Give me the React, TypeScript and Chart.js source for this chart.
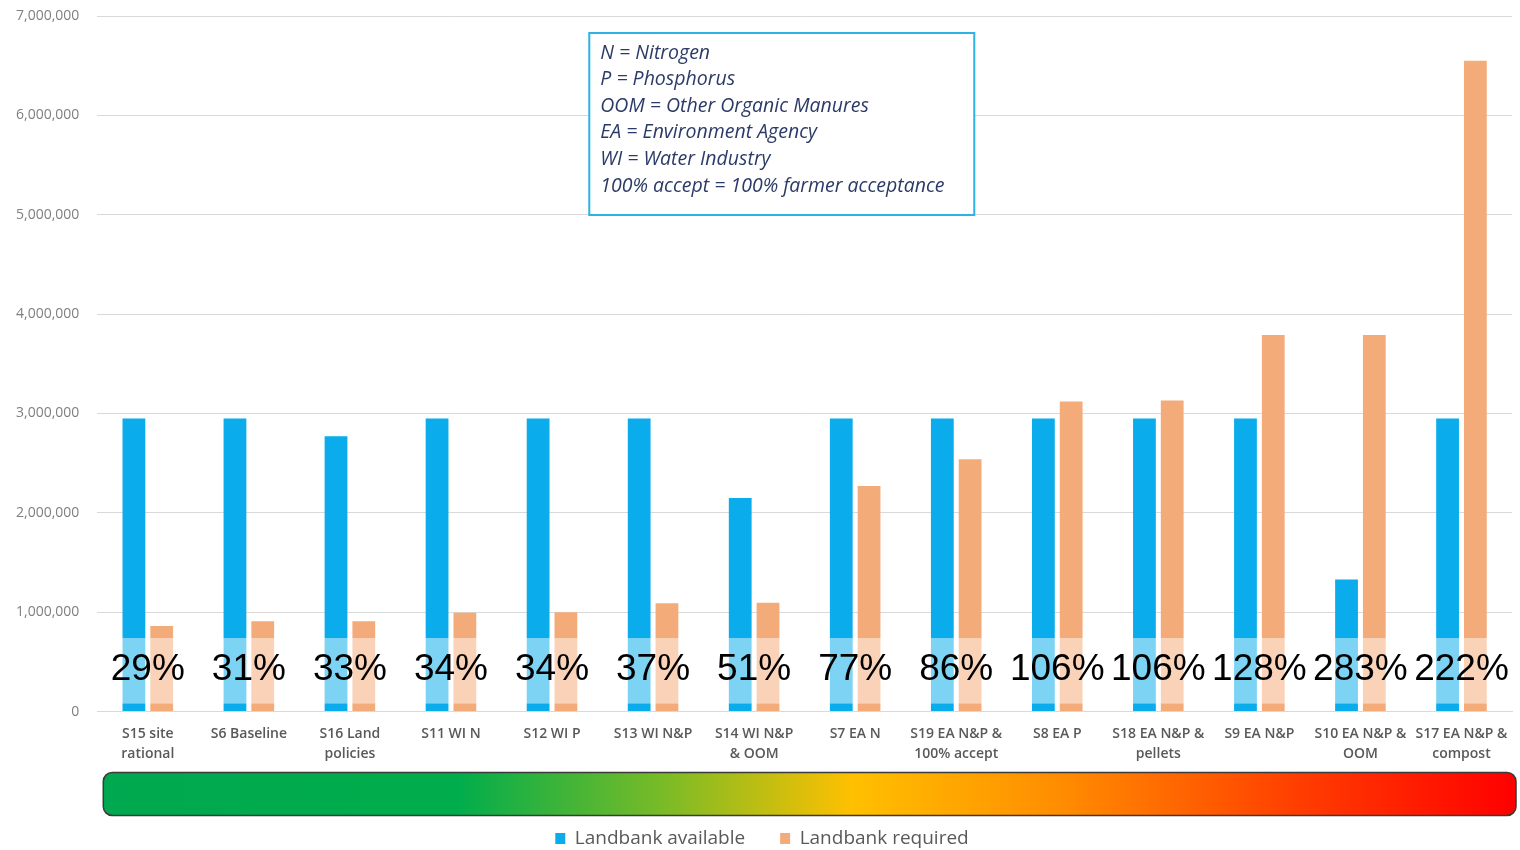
import React, { useEffect, useRef } from 'react';
import { Chart, registerables } from 'chart.js';

Chart.register(...registerables);

const categories: string[][] = [
  ['S15 site', 'rational'],
  ['S6 Baseline'],
  ['S16 Land', 'policies'],
  ['S11 WI N'],
  ['S12 WI P'],
  ['S13 WI N&P'],
  ['S14 WI N&P', '& OOM'],
  ['S7 EA N'],
  ['S19 EA N&P &', '100% accept'],
  ['S8 EA P'],
  ['S18 EA N&P &', 'pellets'],
  ['S9 EA N&P'],
  ['S10 EA N&P &', 'OOM'],
  ['S17 EA N&P &', 'compost'],
];

const landbankAvailable = [
  2950000, 2950000, 2770000, 2950000, 2950000, 2950000, 2150000,
  2950000, 2950000, 2950000, 2950000, 2950000, 1330000, 2950000,
];

const landbankRequired = [
  860000, 910000, 910000, 995000, 1000000, 1090000, 1095000,
  2270000, 2540000, 3120000, 3130000, 3790000, 3790000, 6550000,
];

const percentLabels = [29, 31, 33, 34, 34, 37, 51, 77, 86, 106, 106, 128, 283, 222];

const yTickValues = [0, 1000000, 2000000, 3000000, 4000000, 5000000, 6000000, 7000000];

const notes = [
  'N = Nitrogen',
  'P = Phosphorus',
  'OOM = Other Organic Manures',
  'EA = Environment Agency',
  'WI = Water Industry',
  '100% accept = 100% farmer acceptance',
];

const seriesNames = ['Landbank available', 'Landbank required'];

const BAND_LOW = 80000;
const BAND_HIGH = 740000;
const LABEL_VALUE = 420000;
const LEGEND_PAD = 35;
const LEGEND_FONT = 19;
const LEGEND_TRIM = 8;

const overlayPlugin = {
  id: 'overlayPlugin',
  beforeLayout(chart: any) {
    const lg = chart.legend;
    if (lg && !lg.__trimmed) {
      const orig = lg.fit.bind(lg);
      lg.fit = function () {
        orig();
        this.height = Math.max(0, this.height - LEGEND_TRIM);
      };
      lg.__trimmed = true;
    }
  },
  afterDatasetsDraw(chart: any) {
    const { ctx, chartArea, scales } = chart;
    const x = scales.x;
    const y = scales.y;
    ctx.save();
    const yTop = y.getPixelForValue(BAND_HIGH);
    const yBot = y.getPixelForValue(BAND_LOW);
    ctx.fillStyle = 'rgba(255,255,255,0.47)';
    ctx.fillRect(chartArea.left, yTop, chartArea.right - chartArea.left, yBot - yTop);
    ctx.fillStyle = '#000000';
    ctx.font = '37px "Liberation Sans", Arial, sans-serif';
    ctx.textAlign = 'center';
    ctx.textBaseline = 'middle';
    percentLabels.forEach((p, i) => {
      ctx.fillText(p + '%', x.getPixelForValue(i), y.getPixelForValue(LABEL_VALUE));
    });
    ctx.restore();
  },
  afterDraw(chart: any) {
    const { ctx, chartArea } = chart;
    ctx.save();
    // gradient bar
    const legendCenter = chart.legend.top + LEGEND_PAD + LEGEND_FONT / 2;
    const gx = chartArea.left + 6;
    const gw = chart.width - 4 - gx;
    const gy = legendCenter - 66;
    const gh = 43;
    const grad = ctx.createLinearGradient(gx, 0, gx + gw, 0);
    grad.addColorStop(0, '#00A84F');
    grad.addColorStop(0.25, '#00AD4C');
    grad.addColorStop(0.4, '#7DBB26');
    grad.addColorStop(0.53, '#FFC000');
    grad.addColorStop(0.68, '#FF8C00');
    grad.addColorStop(0.85, '#FF3C00');
    grad.addColorStop(1, '#FF0000');
    ctx.beginPath();
    (ctx as any).roundRect(gx, gy, gw, gh, 9);
    ctx.fillStyle = grad;
    ctx.fill();
    ctx.lineWidth = 1.5;
    ctx.strokeStyle = '#3a3a3a';
    ctx.stroke();

    // notes box
    const bx = chartArea.left + 492;
    const by = chartArea.top + 17;
    const bw = 385;
    const bh = 182;
    ctx.fillStyle = '#ffffff';
    ctx.fillRect(bx, by, bw, bh);
    ctx.lineWidth = 2;
    ctx.strokeStyle = '#2DB2E3';
    ctx.strokeRect(bx, by, bw, bh);
    ctx.fillStyle = '#2B3A67';
    ctx.font = 'italic 19.5px "Open Sans", sans-serif';
    ctx.textAlign = 'left';
    ctx.textBaseline = 'middle';
    notes.forEach((t, i) => {
      ctx.fillText(t, bx + 11, by + 20 + i * 26.6);
    });
    ctx.restore();
  },
};

export default function App() {
  const canvasRef = useRef<HTMLCanvasElement | null>(null);

  useEffect(() => {
    document.body.style.margin = '0';
    const canvas = canvasRef.current;
    if (!canvas) return;
    const chart = new Chart(canvas, {
      type: 'bar',
      data: {
        labels: categories,
        datasets: [
          {
            label: seriesNames[0],
            data: landbankAvailable,
            backgroundColor: '#0AACEB',
            categoryPercentage: 0.55,
            barPercentage: 0.82,
          },
          {
            label: seriesNames[1],
            data: landbankRequired,
            backgroundColor: '#F4AB7A',
            categoryPercentage: 0.55,
            barPercentage: 0.82,
          },
        ],
      },
      options: {
        responsive: false,
        animation: false,
        layout: { padding: { top: 16, right: 8, left: 12, bottom: 0 } },
        plugins: {
          tooltip: { enabled: false },
          legend: {
            position: 'bottom',
            labels: {
              boxWidth: 10,
              boxHeight: 11,
              padding: LEGEND_PAD,
              color: '#595959',
              font: { family: '"Open Sans", sans-serif', size: LEGEND_FONT, lineHeight: 1.2 },
            },
          },
        },
        scales: {
          x: {
            grid: { display: false },
            border: { display: true, color: '#d9d9d9' },
            ticks: {
              autoSkip: false,
              maxRotation: 0,
              minRotation: 0,
              padding: 4,
              color: '#595959',
              font: { family: '"Open Sans", sans-serif', size: 14, weight: '600', lineHeight: 1.43 },
            },
            title: {
              display: true,
              text: ' ',
              padding: { top: 0, bottom: 0 },
              font: { size: 22, lineHeight: 1.2 },
            },
          },
          y: {
            min: 0,
            max: 7000000,
            afterBuildTicks(axis: any) {
              axis.ticks = yTickValues.map((v) => ({ value: v }));
            },
            grid: { color: '#d9d9d9', drawTicks: true, tickLength: 14, tickColor: 'rgba(0,0,0,0)' },
            border: { display: false },
            ticks: {
              padding: 4,
              color: '#7f7f7f',
              font: { family: '"Open Sans", sans-serif', size: 14 },
              callback: (v: any) => Number(v).toLocaleString('en-US'),
            },
          },
        },
      },
      plugins: [overlayPlugin],
    });
    return () => chart.destroy();
  }, []);

  return <canvas ref={canvasRef} width={1520} height={850} style={{ display: 'block' }} />;
}
